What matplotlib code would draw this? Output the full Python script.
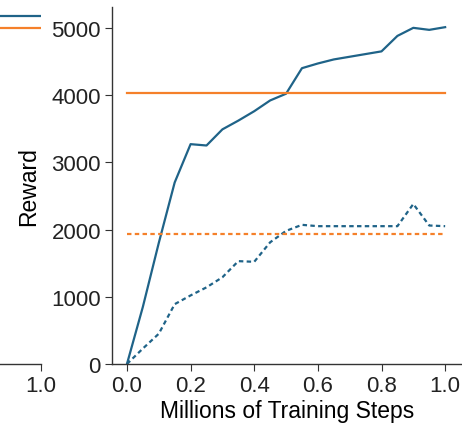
import matplotlib
matplotlib.use("Agg")
import matplotlib.pyplot as plt

plt.rcParams['font.family'] = ['Liberation Sans', 'DejaVu Sans']

# training steps in millions
steps = [0.0, 0.05, 0.1, 0.15, 0.2, 0.25, 0.3, 0.35, 0.4, 0.45, 0.5,
         0.55, 0.6, 0.65, 0.7, 0.75, 0.8, 0.85, 0.9, 0.95, 1.0]
reward_solid = [0, 850, 1800, 2700, 3270, 3250, 3490, 3620, 3760, 3920, 4020,
                4400, 4470, 4530, 4570, 4610, 4650, 4880, 5000, 4970, 5010]
reward_dashed = [0, 230, 450, 890, 1020, 1140, 1290, 1530, 1520, 1810, 1980,
                 2070, 2050, 2050, 2050, 2050, 2050, 2050, 2380, 2060, 2050]
baseline_solid = 4030
baseline_dashed = 1935

# neighbouring panel (only its right end is visible)
left_steps = [0.0, 1.0]
left_blue = [5180, 5180]
left_orange = [5000, 5000]

blue = '#1f6388'
orange = '#f5802a'

W, H = 462, 427
fig = plt.figure(figsize=(W / 100, H / 100), dpi=100)

# left panel, mostly cut off (drawn first so it stays underneath)
ax2 = fig.add_axes([-260 / W, 62 / H, 301 / W, 357 / H], zorder=0)
ax2.plot(left_steps, left_blue, color=blue, lw=1.6)
ax2.plot(left_steps, left_orange, color=orange, lw=1.6)
ax2.set_xlim(-0.05, 1.0)
ax2.set_ylim(0, 5310)
ax2.set_xticks([1.0])
ax2.set_xticklabels(['1.0'])
ax2.set_yticks([])
ax2.spines['left'].set_visible(False)
ax2.patch.set_alpha(0)

# right panel
ax = fig.add_axes([112 / W, 62 / H, 350 / W, 357 / H], zorder=1)
ax.patch.set_alpha(0)
ax.plot(steps, reward_solid, color=blue, lw=1.6)
ax.plot(steps, reward_dashed, color=blue, lw=1.6, ls='--', dashes=(2, 1.5))
ax.plot([0, 1], [baseline_solid] * 2, color=orange, lw=1.6)
ax.plot([0, 1], [baseline_dashed] * 2, color=orange, lw=1.6, ls='--', dashes=(2, 1.5))
ax.set_xlim(-0.047, 1.053)
ax.set_ylim(0, 5310)
ax.set_xticks([0.0, 0.2, 0.4, 0.6, 0.8, 1.0])
ax.set_yticks([0, 1000, 2000, 3000, 4000, 5000])
ax.set_xlabel("Millions of Training Steps", fontsize=16.5, labelpad=2)
ax.set_ylabel("Reward", fontsize=16.5, labelpad=8)

for a in (ax, ax2):
    for side in ('top', 'right'):
        a.spines[side].set_visible(False)
    for side in ('left', 'bottom'):
        a.spines[side].set_color('#333333')
        a.spines[side].set_linewidth(1.0)
    a.tick_params(labelsize=16, length=5, pad=3, color='#333333', labelcolor='#222222')

fig.savefig("out.png", dpi=100)
